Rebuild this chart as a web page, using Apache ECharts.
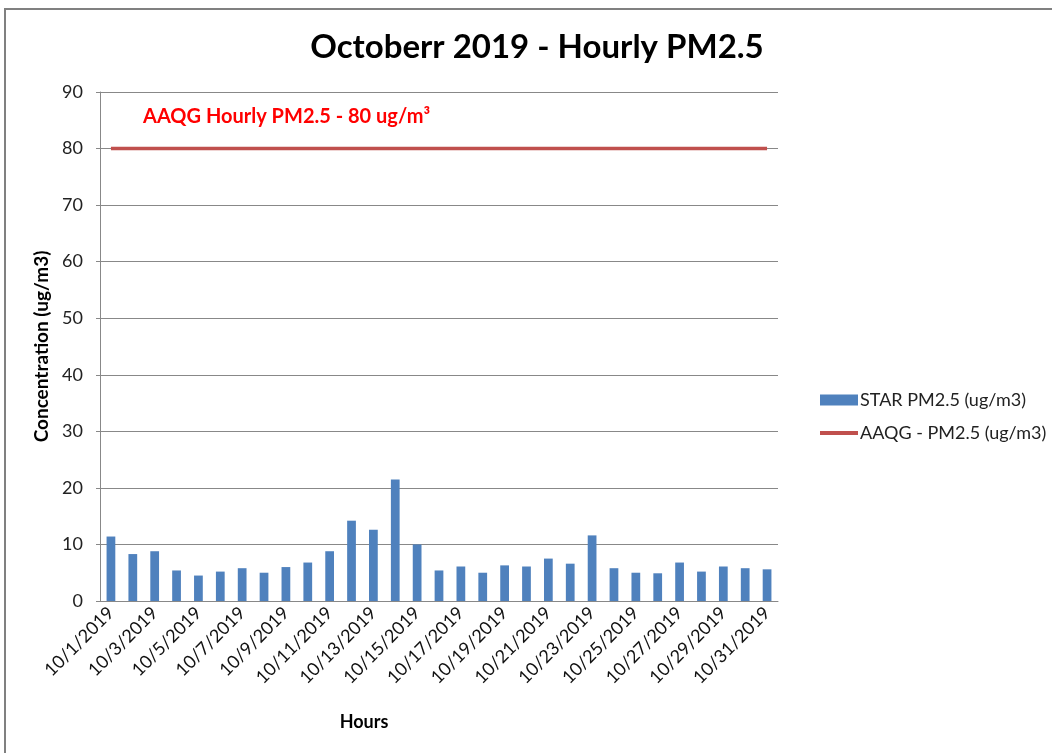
<!DOCTYPE html>
<html>
<head>
<meta charset="utf-8">
<script src="https://cdn.jsdelivr.net/npm/echarts@6/dist/echarts.min.js"></script>
<style>
  html, body { margin: 0; padding: 0; background: #fff; }
  #main { width: 1052px; height: 753px; }
</style>
</head>
<body>
<div id="main"></div>
<script>
// days of October 2019
var days = [];
for (var d = 1; d <= 31; d++) {
    days.push('10/' + d + '/2019');
}

// hourly PM2.5
var starPm25 = [11.4, 8.3, 8.8, 5.4, 4.5, 5.2, 5.8, 5.0, 6.0, 6.8, 8.8, 14.2, 12.6, 21.5, 10.0, 5.4,
                6.1, 5.0, 6.3, 6.1, 7.5, 6.6, 11.6, 5.8, 5.0, 4.9, 6.8, 5.2, 6.1, 5.8, 5.6];

// guideline value, same on every day
var aaqgLimit = days.map(function () { return 80; });

var yTicks = { min: 0, max: 90, interval: 10 };

var chart = echarts.init(document.getElementById('main'));

chart.setOption({
    animation: false,
    textStyle: { fontFamily: 'Lato' },
    title: {
        text: 'Octoberr 2019 - Hourly PM2.5',
        left: 532,
        textAlign: 'center',
        top: 26,
        textStyle: { fontSize: 33, fontWeight: 'bold', color: '#000', fontFamily: 'Lato' }
    },
    legend: {
        orient: 'vertical',
        left: 815,
        top: 386,
        itemWidth: 38,
        itemHeight: 11,
        itemGap: 15,
        textStyle: { fontSize: 18, color: '#222', fontFamily: 'Lato', padding: [0, 0, 0, -3] },
        data: [
            { name: 'STAR PM2.5 (ug/m3)', icon: 'rect' },
            { name: 'AAQG - PM2.5 (ug/m3)', icon: 'path://M0 0H38V4H0Z' }
        ]
    },
    grid: {
        left: 100,
        right: 274,
        top: 92,
        bottom: 152,
        containLabel: false
    },
    xAxis: {
        type: 'category',
        data: days,
        boundaryGap: true,
        name: 'Hours',
        nameLocation: 'middle',
        nameGap: 112,
        nameTextStyle: { fontSize: 18, fontWeight: 'bold', color: '#000', padding: [0, 150, 0, 0] },
        axisLine: { lineStyle: { color: '#888', width: 1 } },
        axisTick: { show: false },
        axisLabel: {
            interval: 1,
            rotate: 45,
            fontSize: 18,
            color: '#111',
            margin: 9
        }
    },
    yAxis: {
        type: 'value',
        min: yTicks.min,
        max: yTicks.max,
        interval: yTicks.interval,
        name: 'Concentration (ug/m3)',
        nameLocation: 'middle',
        nameRotate: 90,
        nameGap: 46,
        nameTextStyle: { fontSize: 19, fontWeight: 'bold', color: '#000' },
        axisLine: { show: true, lineStyle: { color: '#888', width: 1 } },
        axisTick: { show: true, length: 4, lineStyle: { color: '#888' } },
        axisLabel: { fontSize: 18, color: '#222', margin: 17 },
        splitLine: { show: true, lineStyle: { color: '#888', width: 1 } }
    },
    series: [{
        name: 'STAR PM2.5 (ug/m3)',
        type: 'bar',
        data: starPm25,
        barWidth: '40%',
        itemStyle: { color: '#4F81BD' }
    }, {
        name: 'AAQG - PM2.5 (ug/m3)',
        type: 'line',
        data: aaqgLimit,
        symbol: 'none',
        lineStyle: { color: '#C0504D', width: 3.5 },
        itemStyle: { color: '#C0504D' }
    }],
    graphic: [{
        type: 'text',
        left: 143,
        top: 107,
        style: {
            text: 'AAQG Hourly PM2.5 - 80 ug/m³',
            fill: '#FF0000',
            font: 'bold 20px Lato'
        }
    }, {
        type: 'polyline',
        shape: { points: [[5, 753], [5, 9], [1052, 9]] },
        style: { stroke: '#808080', lineWidth: 2, fill: null }
    }]
});
</script>
</body>
</html>
